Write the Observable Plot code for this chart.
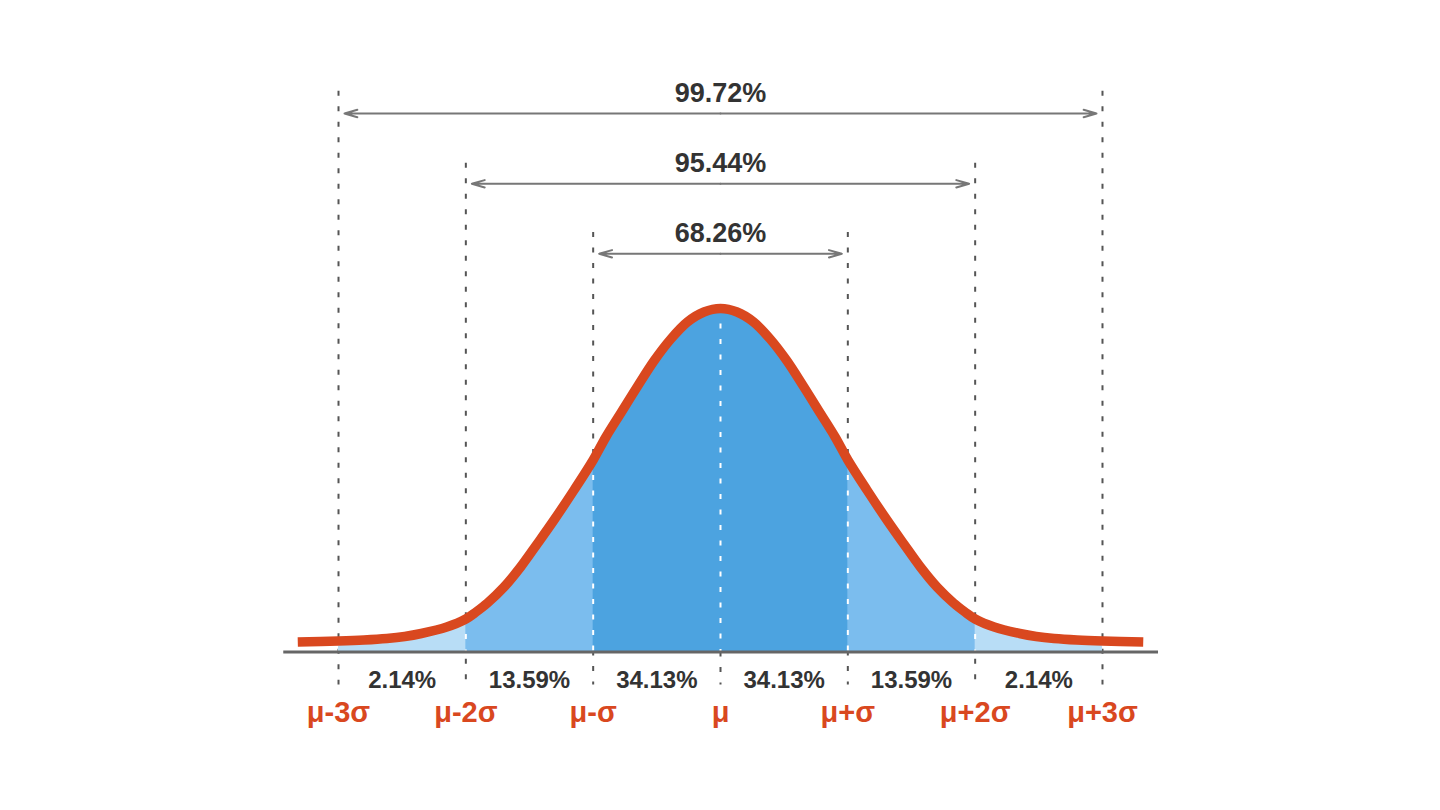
<!DOCTYPE html>
<html>
<head>
<meta charset="utf-8">
<script src="https://cdn.jsdelivr.net/npm/d3@7"></script>
<script src="https://cdn.jsdelivr.net/npm/@observablehq/plot@0.6"></script>
<style>
  html, body { margin: 0; padding: 0; background: #ffffff; }
  #chart svg { display: block; }
</style>
</head>
<body>
<div id="chart"></div>
<script>
// Bell curve samples: position (σ units) and height above the baseline
const curveZ = [-3.32, -3, -2.8, -2.62, -2.48, -2.35, -2.15, -2, -1.92, -1.83, -1.7, -1.57, -1.44, -1.31,
                -1.15, -1, -0.9, -0.785, -0.65, -0.52, -0.39, -0.26, -0.13, 0,
                0.13, 0.26, 0.39, 0.52, 0.65, 0.785, 0.9, 1, 1.15, 1.31, 1.44, 1.57, 1.7, 1.83,
                1.92, 2, 2.15, 2.35, 2.48, 2.62, 2.8, 3, 3.32];
const curveH = [10, 11, 12, 13.5, 15.5, 18.5, 25, 33, 40, 49, 65, 85, 108, 131.5,
                162, 192, 215, 238.5, 266, 291.5, 313, 330, 340, 343.5,
                340, 330, 313, 291.5, 266, 238.5, 215, 192, 162, 131.5, 108, 85, 65, 49,
                40, 33, 25, 18.5, 15.5, 13.5, 12, 11, 10];

// σ guide lines and their labels
const sigmaK = [-3, -2, -1, 0, 1, 2, 3];
const sigmaLabels = ["μ-3σ", "μ-2σ", "μ-σ", "μ", "μ+σ", "μ+2σ", "μ+3σ"];
const guideTop = [560.8, 488.8, 419.5, 0, 419.5, 488.8, 560.8];

// Percentages of each band between successive σ lines
const bandPct = ["2.14%", "13.59%", "34.13%", "34.13%", "13.59%", "2.14%"];

// ±kσ spans (arrows on top)
const spanK = [1, 2, 3];
const spanLabels = ["68.26%", "95.44%", "99.72%"];
const spanLevel = [398.2, 468.2, 538.5];
const spanFill = ["#4ca3e0", "#7bbdee", "#b8ddf6"];

const curve = curveZ.map((z, i) => ({z, h: curveH[i]}));
const bands = bandPct.map((t, i) => ({t, z: (sigmaK[i] + sigmaK[i + 1]) / 2}));
const halfWidth = 720 / 127.33;

const marks = [];

// dark dashed guides (drawn first, covered by the fills)
marks.push(Plot.ruleX(sigmaK, {
  x: d => d, y1: (d, i) => guideTop[i], y2: -33,
  stroke: "#555555", strokeWidth: 2, strokeDasharray: "5,10.5"
}));

// layered fills: ±3σ light, ±2σ medium, ±1σ dark
for (let j = spanK.length - 1; j >= 0; j--) {
  const k = spanK[j];
  marks.push(Plot.areaY(curve.filter(d => Math.abs(d.z) <= k + 1e-9), {
    x: "z", y: "h", fill: spanFill[j], curve: "catmull-rom"
  }));
}

// white dashed guides inside the fill
marks.push(Plot.ruleX(sigmaK, {
  x: d => d, y1: d => curveH[curveZ.indexOf(d)], y2: 0,
  stroke: "#ffffff", strokeWidth: 2, strokeDasharray: "5,10.5"
}));

// baseline
marks.push(Plot.ruleY([0], {x1: -3.43, x2: 3.44, stroke: "#666666", strokeWidth: 3}));

// the curve
marks.push(Plot.line(curve, {
  x: "z", y: "h", stroke: "#d9481f", strokeWidth: 9.5, curve: "catmull-rom",
  strokeLinecap: "butt", strokeLinejoin: "round"
}));

// double-headed span arrows
for (const side of [-1, 1]) {
  marks.push(Plot.arrow(spanK, {
    x1: () => 0, x2: d => side * d,
    y1: (d, i) => spanLevel[i], y2: (d, i) => spanLevel[i],
    stroke: "#777777", strokeWidth: 2, headAngle: 32, headLength: 10, insetEnd: 6
  }));
}

// span labels
marks.push(Plot.text(spanK, {
  x: () => 0, y: (d, i) => spanLevel[i], dy: -20, text: (d, i) => spanLabels[i],
  fontSize: 27, fontWeight: "bold", fill: "#333333"
}));

// band percentages
marks.push(Plot.text(bands, {
  x: "z", y: () => -28, text: "t",
  fontSize: 24, fontWeight: "bold", fill: "#333333"
}));

// σ labels
marks.push(Plot.text(sigmaK, {
  x: d => d, y: () => -60.5, text: (d, i) => sigmaLabels[i],
  fontSize: 29, fontWeight: "bold", fill: "#d9481f"
}));

const chart = Plot.plot({
  width: 1440,
  height: 810,
  marginTop: 0,
  marginLeft: 0,
  marginRight: 0,
  marginBottom: 158.5,
  x: {domain: [-halfWidth, halfWidth], axis: null},
  y: {domain: [0, 651.5], axis: null},
  style: {background: "#ffffff", fontFamily: "'Liberation Sans', Arial, Helvetica, sans-serif", overflow: "visible"},
  marks
});

document.getElementById("chart").appendChild(chart);
</script>
</body>
</html>
